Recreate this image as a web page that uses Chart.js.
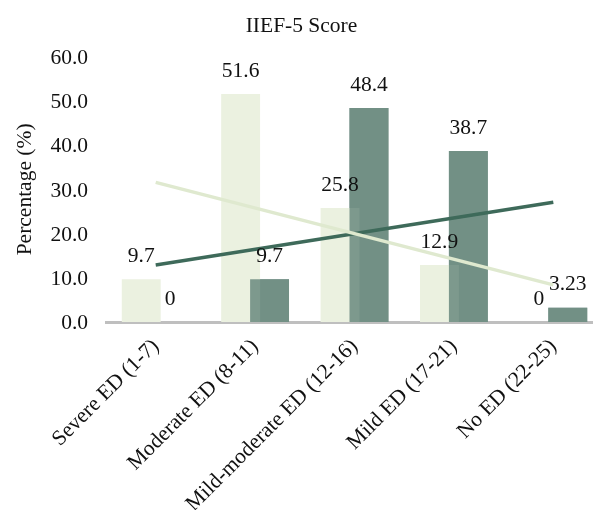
<!DOCTYPE html>
<html>
<head>
<meta charset="utf-8">
<script src="https://cdn.jsdelivr.net/npm/chart.js@4/dist/chart.umd.min.js"></script>
<style>
  html, body { margin: 0; padding: 0; background: #fff; overflow: hidden; }
  #wrap { width: 604px; height: 510px; }
</style>
</head>
<body>
<div id="wrap"><canvas id="chart"></canvas></div>
<script>
// --- DATA ---
const categories = ['Severe ED (1-7)', 'Moderate ED (8-11)', 'Mild-moderate ED (12-16)', 'Mild ED (17-21)', 'No ED (22-25)'];
const seriesA = [9.7, 51.6, 25.8, 12.9, 0];
const seriesB = [0, 9.7, 48.4, 38.7, 3.23];
// trend lines, read at the first and last category
const trendA = [31.6, null, null, null, 8.4];
const trendB = [12.9, null, null, null, 27.1];
const yTicks = [0, 10, 20, 30, 40, 50, 60];

const FONT = "'Liberation Serif', 'Times New Roman', serif";
const FS = 21.5;
Chart.defaults.font.family = FONT;
Chart.defaults.font.size = FS;
Chart.defaults.color = '#111';

const lightBar = 'rgb(235,241,224)';
const darkBar = 'rgba(113,143,132,0.9)';

// dark bars sit on top of the light ones where they overlap
const overlapPlugin = {
  id: 'overlap',
  afterDatasetDraw(chart, args) {
    if (args.index !== 0) return;
    const meta = chart.getDatasetMeta(1);
    meta.data.forEach((el) => el.draw(chart.ctx));
  },
};

// value labels above each bar
const valueLabels = {
  id: 'valueLabels',
  afterDatasetsDraw(chart) {
    const ctx = chart.ctx;
    ctx.save();
    ctx.font = FS + 'px ' + FONT;
    ctx.fillStyle = '#111';
    ctx.textAlign = 'center';
    ctx.textBaseline = 'middle';
    [0, 1].forEach((di) => {
      const meta = chart.getDatasetMeta(di);
      const vals = chart.data.datasets[di].data;
      meta.data.forEach((bar, i) => {
        ctx.fillText(String(vals[i]), bar.x, bar.y - 23);
      });
    });
    ctx.restore();
  },
};

new Chart(document.getElementById('chart'), {
  type: 'bar',
  data: {
    labels: categories,
    datasets: [
      {
        label: 'A',
        data: seriesA,
        backgroundColor: lightBar,
        order: 1,
        categoryPercentage: 0.582,
        barPercentage: 1.345,
      },
      {
        label: 'B',
        data: seriesB,
        backgroundColor: darkBar,
        order: 2,
        categoryPercentage: 0.582,
        barPercentage: 1.345,
      },
      {
        type: 'line',
        label: 'Trend A',
        data: trendA,
        borderColor: 'rgb(223,233,207)',
        borderWidth: 3.5,
        pointRadius: 0,
        spanGaps: true,
        order: 0,
      },
      {
        type: 'line',
        label: 'Trend B',
        data: trendB,
        borderColor: 'rgb(62,106,90)',
        borderWidth: 3.5,
        pointRadius: 0,
        spanGaps: true,
        order: 0,
      },
    ],
  },
  options: {
    responsive: true,
    maintainAspectRatio: false,
    animation: false,
    layout: { padding: { left: 0, right: 1, top: 0, bottom: 0 } },
    plugins: {
      legend: { display: false },
      tooltip: { enabled: false },
      title: {
        display: true,
        text: 'IIEF-5 Score',
        color: '#111',
        font: { size: FS, weight: 'normal', family: FONT },
        padding: { top: 13, bottom: 18 },
      },
    },
    scales: {
      x: {
        grid: { display: false, drawTicks: false },
        border: { display: true, color: '#bfbfbf', width: 3 },
        ticks: { maxRotation: 45, minRotation: 45, padding: 12, font: { size: FS } },
        afterFit: (scale) => { scale.height = 188; },
      },
      y: {
        min: 0,
        max: 60,
        grid: { display: false, drawTicks: false },
        border: { display: false },
        afterBuildTicks: (scale) => { scale.ticks = yTicks.map((v) => ({ value: v })); },
        ticks: { padding: 18, labelOffset: 1.5, callback: (v) => Number(v).toFixed(1) },
        title: { display: true, text: 'Percentage (%)', padding: { top: 12, bottom: 0 }, font: { size: FS } },
        afterFit: (scale) => { scale.width = 106; },
      },
    },
  },
  plugins: [overlapPlugin, valueLabels],
});
</script>
</body>
</html>
